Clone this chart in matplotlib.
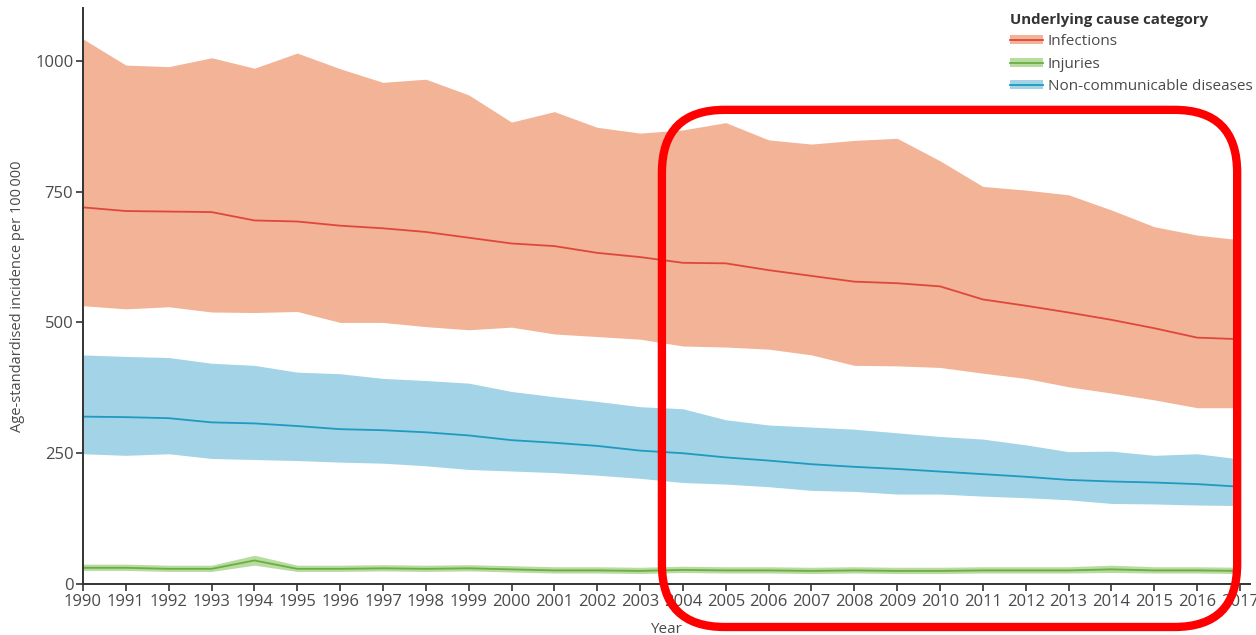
import matplotlib.pyplot as plt
from matplotlib.patches import Patch, FancyBboxPatch
from matplotlib.lines import Line2D
import numpy as np

plt.rcParams['font.family'] = ['Open Sans', 'DejaVu Sans']

years = np.arange(1990, 2018)

# infections: mean and uncertainty interval
inf_mean = [720, 713, 712, 711, 695, 693, 685, 680, 673, 662, 651, 646, 633, 625,
            614, 613, 600, 589, 578, 575, 569, 544, 532, 519, 505, 489, 471, 468]
inf_low = [532, 526, 530, 520, 519, 521, 500, 500, 492, 486, 491, 478, 473, 468,
           455, 453, 449, 438, 418, 417, 414, 403, 393, 377, 365, 352, 337, 337]
inf_high = [1042, 992, 989, 1006, 986, 1015, 985, 959, 965, 935, 883, 903, 873, 862,
            868, 882, 849, 841, 848, 852, 809, 760, 753, 744, 715, 683, 667, 658]

# injuries
inj_mean = [31, 31, 29, 29, 45, 29, 29, 30, 29, 30, 28, 26, 26, 25,
            27, 26, 26, 25, 26, 25, 25, 26, 26, 26, 28, 26, 26, 25]
inj_low = [26, 26, 24, 24, 36, 24, 24, 25, 24, 25, 23, 21, 21, 20,
           22, 21, 21, 20, 21, 20, 20, 21, 21, 21, 22, 21, 21, 20]
inj_high = [38, 38, 36, 36, 55, 36, 36, 37, 36, 37, 35, 33, 33, 32,
            34, 33, 33, 32, 33, 32, 32, 33, 33, 33, 36, 33, 33, 32]

# non-communicable diseases
ncd_mean = [320, 319, 317, 309, 307, 302, 296, 294, 290, 284, 275, 270, 264, 255,
            250, 242, 236, 229, 224, 220, 215, 210, 205, 199, 196, 194, 191, 186]
ncd_low = [249, 246, 249, 240, 238, 236, 233, 231, 226, 219, 216, 213, 208, 202,
           194, 191, 186, 179, 177, 172, 172, 168, 165, 161, 154, 153, 151, 150]
ncd_high = [438, 435, 433, 422, 418, 405, 402, 393, 389, 384, 368, 358, 349, 339,
            335, 314, 304, 300, 296, 289, 282, 277, 266, 253, 254, 246, 249, 239]

labels = ['Infections', 'Injuries', 'Non-communicable diseases']
fill_colors = ['#f2b396', '#b8dba0', '#a2d3e6']
line_colors = ['#e0473b', '#6aae45', '#1f9ac0']

txt = '#4a4a4a'

fig = plt.figure(figsize=(12.56, 6.35), dpi=100)
ax = fig.add_axes([0.0661, 0.0803, 0.929, 0.907])

series = [(inf_mean, inf_low, inf_high), (inj_mean, inj_low, inj_high),
          (ncd_mean, ncd_low, ncd_high)]
for (m, lo, hi), fc, lc in zip(series, fill_colors, line_colors):
    ax.fill_between(years, lo, hi, color=fc, lw=0)
    ax.plot(years, m, color=lc, lw=1.3)

ax.set_xlim(1990, 2017.23)
ax.set_ylim(0, 1101)
ax.set_xticks(years)
ax.set_yticks([0, 250, 500, 750, 1000])
ax.tick_params(axis='both', direction='out', length=5, width=1.2, color='#333333',
               labelsize=12, labelcolor=txt, pad=2)
for side in ['top', 'right']:
    ax.spines[side].set_visible(False)
for side in ['left', 'bottom']:
    ax.spines[side].set_linewidth(1.4)
    ax.spines[side].set_color('#333333')

ax.set_xlabel('Year', fontsize=11, color=txt, labelpad=9)
ax.set_ylabel('Age-standardised incidence per 100\u2009000', fontsize=10.5,
              color=txt, labelpad=7)

handles = [(Patch(facecolor=fc, edgecolor='none'), Line2D([], [], color=lc, lw=1.3))
           for fc, lc in zip(fill_colors, line_colors)]
leg = ax.legend(handles, labels, title='Underlying cause category', loc='upper right',
                bbox_to_anchor=(1.005, 0.997), frameon=False, fontsize=11,
                title_fontsize=10.8, handlelength=2.1, handleheight=0.55,
                handletextpad=0.35, labelspacing=0.48, borderaxespad=0, borderpad=0.2)
leg.get_title().set_fontweight('bold')
leg.get_title().set_color('#333333')
leg._legend_box.align = 'left'
for t in leg.get_texts():
    t.set_color(txt)

# red highlight around 2004-2017
box = FancyBboxPatch((0.527, 0.0126), 0.985 - 0.527, 0.827 - 0.0126,
                     boxstyle='round,pad=0,rounding_size=0.05',
                     mutation_aspect=1256 / 635, transform=fig.transFigure,
                     fill=False, edgecolor='#ff0000', lw=6, clip_on=False, zorder=10)
fig.patches.append(box)

fig.savefig('out.png', dpi=100)
